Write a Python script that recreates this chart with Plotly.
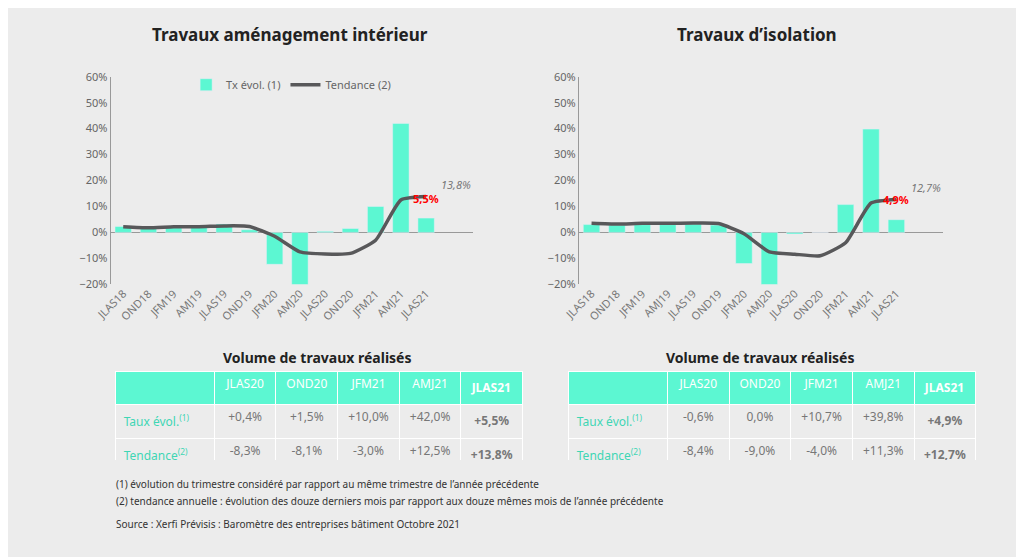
import plotly.graph_objects as go

quarters = ["JLAS18", "OND18", "JFM19", "AMJ19", "JLAS19", "OND19", "JFM20",
            "AMJ20", "JLAS20", "OND20", "JFM21", "AMJ21", "JLAS21"]
amen_tx = [2.3, 1.5, 1.8, 2.0, 3.2, 1.0, -12.3, -20.5, 0.4, 1.5, 10.0, 42.0, 5.5]
amen_tend = [2.2, 1.8, 2.2, 2.2, 2.5, 2.3, -1.5, -7.5, -8.3, -8.1, -3.0, 12.5, 13.8]
iso_tx = [3.0, 2.8, 3.0, 3.0, 3.2, 2.8, -12.0, -20.5, -0.6, 0.0, 10.7, 39.8, 4.9]
iso_tend = [3.5, 3.2, 3.5, 3.5, 3.6, 3.4, -0.5, -7.5, -8.4, -9.0, -4.0, 11.3, 12.7]

tab_cols = ["JLAS20", "OND20", "JFM21", "AMJ21", "JLAS21"]
amen_tab_tx = ["+0,4%", "+1,5%", "+10,0%", "+42,0%", "<b>+5,5%</b>"]
amen_tab_tend = ["-8,3%", "-8,1%", "-3,0%", "+12,5%", "<b>+13,8%</b>"]
iso_tab_tx = ["-0,6%", "0,0%", "+10,7%", "+39,8%", "<b>+4,9%</b>"]
iso_tab_tend = ["-8,4%", "-9,0%", "-4,0%", "+11,3%", "<b>+12,7%</b>"]

TEAL = "#5cf7d2"
GREY = "#58585a"
BG = "#ececec"
FONT = "Noto Sans"

fig = go.Figure()

def add_chart(n, tx, tend, show):
    xa = "x" if n == 1 else "x2"
    ya = "y" if n == 1 else "y2"
    fig.add_trace(go.Bar(x=quarters, y=tx, marker_color=TEAL, name="Tx évol. (1)",
                         width=0.65, xaxis=xa, yaxis=ya, showlegend=show))
    fig.add_trace(go.Scatter(x=quarters, y=tend, mode="lines", name="Tendance (2)",
                             line=dict(color=GREY, width=3.5, shape="spline", smoothing=0.5),
                             xaxis=xa, yaxis=ya, showlegend=show))
    fig.add_annotation(x=quarters[-1], y=tend[-1], xref=xa, yref=ya,
                       text="<i>%s%%</i>" % str(tend[-1]).replace(".", ","),
                       showarrow=False, xshift=30, yshift=12, font=dict(color="#777", size=11))
    fig.add_annotation(x=quarters[-1], y=tx[-1], xref=xa, yref=ya,
                       text="<b>%s%%</b>" % str(tx[-1]).replace(".", ","),
                       showarrow=False, yshift=20, font=dict(color="#ff0000", size=11))

add_chart(1, amen_tx, amen_tend, True)
add_chart(2, iso_tx, iso_tend, False)

def add_table(x0, x1, tx, tend):
    fig.add_trace(go.Table(
        domain=dict(x=[x0, x1], y=[0.18, 0.345]),
        columnwidth=[1.6, 1, 1, 1, 1, 1],
        header=dict(values=[""] + [c if c != "JLAS21" else "<b>JLAS21</b>" for c in tab_cols],
                    fill_color=TEAL, font=dict(color="white", size=12, family=FONT),
                    line_color="white", height=24, align="center"),
        cells=dict(values=[["Taux évol.<sup>(1)</sup>", "Tendance<sup>(2)</sup>"]] +
                   [[a, b] for a, b in zip(tx, tend)],
                   fill_color=BG, line_color="white", height=22,
                   font=dict(color=[["#3fd6b4"] * 2] + [["#777"] * 2] * 5, size=12, family=FONT),
                   align=["left", "center"])))

add_table(0.09, 0.495, amen_tab_tx, amen_tab_tend)
add_table(0.54, 0.945, iso_tab_tx, iso_tab_tend)

ax = dict(range=[-20, 60], dtick=10, ticksuffix="%", showgrid=False, zeroline=True,
          zerolinecolor="#999", zerolinewidth=1, showline=True, linecolor="#999",
          tickfont=dict(color="#666", size=11))
xax = dict(tickangle=-45, showline=False, tickfont=dict(color="#777", size=11), showgrid=False)

fig.update_layout(
    width=1024, height=557, paper_bgcolor=BG, plot_bgcolor=BG,
    font=dict(family=FONT), margin=dict(l=0, r=0, t=0, b=0),
    barmode="overlay",
    xaxis=dict(domain=[0.085, 0.445], anchor="y", **xax),
    yaxis=dict(domain=[0.505, 0.888], anchor="x", **ax),
    xaxis2=dict(domain=[0.55, 0.912], anchor="y2", **xax),
    yaxis2=dict(domain=[0.505, 0.888], anchor="x2", **ax),
    legend=dict(orientation="h", x=0.16, y=0.9, xanchor="left", yanchor="top",
                bgcolor="rgba(0,0,0,0)", font=dict(color="#666", size=11)),
)
titles = [(0.263, "Travaux aménagement intérieur"), (0.727, "Travaux d’isolation")]
for x, t in titles:
    fig.add_annotation(x=x, y=0.965, xref="paper", yref="paper", xanchor="center", yanchor="middle",
                       text="<b>%s</b>" % t, showarrow=False,
                       font=dict(size=17, color="#222", family=FONT))
for x in [0.29, 0.73]:
    fig.add_annotation(x=x, y=0.37, xref="paper", yref="paper", xanchor="center", yanchor="middle",
                       text="<b>Volume de travaux réalisés</b>", showarrow=False,
                       font=dict(size=14, color="#222", family=FONT))
notes = ["(1) évolution du trimestre considéré par rapport au même trimestre de l’année précédente",
         "(2) tendance annuelle : évolution des douze derniers mois par rapport aux douze mêmes mois de l’année précédente",
         "Source : Xerfi Prévisis : Baromètre des entreprises bâtiment Octobre 2021"]
for y, t in zip([0.137, 0.105, 0.062], notes):
    fig.add_annotation(x=0.088, y=y, xref="paper", yref="paper", text=t, xanchor="left",
                       yanchor="middle", showarrow=False,
                       font=dict(size=10, color="#333", family=FONT))

fig.write_html("out.html")
